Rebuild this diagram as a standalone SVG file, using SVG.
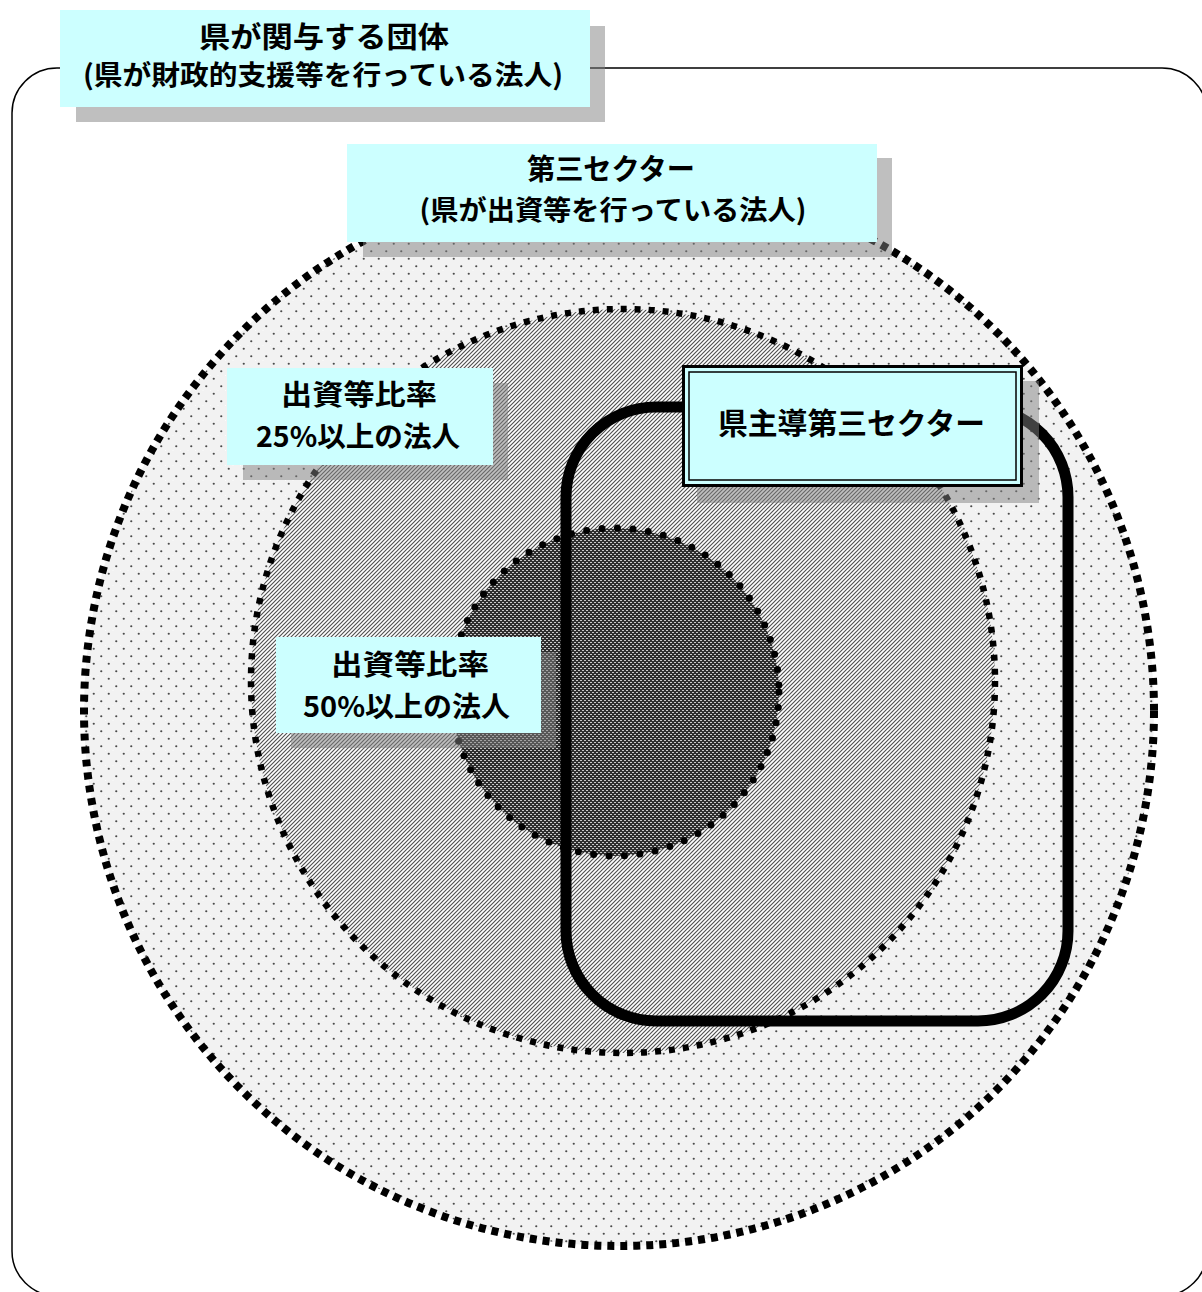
<svg xmlns="http://www.w3.org/2000/svg" width="1202" height="1292" viewBox="0 0 1202 1292">
<defs>
<pattern id="pDots" width="15" height="15" patternUnits="userSpaceOnUse">
<rect width="15" height="15" fill="#f2f2f2"/>
<rect x="0" y="0" width="1" height="1" fill="#fbfbfb"/>
<rect x="7.5" y="0" width="1" height="1" fill="#fbfbfb"/>
<circle cx="3.75" cy="3.75" r="1.1" fill="#4a4a4a"/>
<circle cx="11.25" cy="11.25" r="1.1" fill="#4a4a4a"/>
</pattern>
<pattern id="pStripe" width="4" height="4" patternUnits="userSpaceOnUse">
<rect width="4" height="4" fill="#ffffff"/>
<path d="M0,4 L4,0 M-1,1 L1,-1 M3,5 L5,3" stroke="#505050" stroke-width="1.15"/>
</pattern>
<pattern id="pCheck" width="4" height="4" patternUnits="userSpaceOnUse">
<rect width="4" height="4" fill="#2e2e2e"/>
<rect x="0" y="0" width="2" height="1" fill="#c8c8c8"/>
<rect x="2" y="2" width="2" height="1" fill="#c8c8c8"/>
</pattern>
<style>
.lbl{font-family:"Noto Sans CJK JP","Noto Sans CJK SC",sans-serif;font-weight:bold;fill:#000;text-anchor:middle;dominant-baseline:central}
.box{fill:#ccffff}
.shadow{fill:#808080;fill-opacity:0.5}
</style>
</defs>

<g id="frame">
<rect x="12" y="68" width="1195" height="1228" rx="45" ry="45" fill="none" stroke="#000" stroke-width="1.5"/>
</g>

<g id="circle-third-sector">
<circle cx="619" cy="711" r="535" fill="url(#pDots)" stroke="#000" stroke-width="8" stroke-dasharray="7 6"/>
</g>
<g id="circle-25">
<circle cx="623" cy="681" r="372" fill="url(#pStripe)" stroke="#000" stroke-width="6.5" stroke-dasharray="6 8"/>
</g>
<g id="circle-50">
<circle cx="615" cy="692" r="164" fill="url(#pCheck)" stroke="#000" stroke-width="7" stroke-linecap="round" stroke-dasharray="0 15.5"/>
</g>
<g id="ken-shudo-area">
<rect x="566" y="407" width="502" height="614" rx="90" ry="90" fill="none" stroke="#000" stroke-width="11"/>
</g>

<g id="label-kanyo">
<rect class="shadow" x="76" y="26" width="529" height="96"/>
<rect class="box" x="60" y="10" width="530" height="97"/>
<text class="lbl" x="324" y="34.5" font-size="29" textLength="250" lengthAdjust="spacingAndGlyphs">県が関与する団体</text>
<text class="lbl" x="323" y="73" font-size="27.5" textLength="480" lengthAdjust="spacingAndGlyphs">(県が財政的支援等を行っている法人)</text>
</g>

<g id="label-third-sector">
<rect class="shadow" x="363" y="158" width="529" height="99"/>
<rect class="box" x="347" y="144" width="530" height="98"/>
<text class="lbl" x="611" y="167" font-size="29" textLength="168" lengthAdjust="spacingAndGlyphs">第三セクター</text>
<text class="lbl" x="613" y="208" font-size="27.5" textLength="387" lengthAdjust="spacingAndGlyphs">(県が出資等を行っている法人)</text>
</g>

<g id="label-25">
<rect class="shadow" x="243" y="383" width="265" height="97"/>
<rect class="box" x="227" y="368" width="266" height="97"/>
<text class="lbl" x="359" y="392.5" font-size="28.5" textLength="156" lengthAdjust="spacingAndGlyphs">出資等比率</text>
<text class="lbl" x="358" y="434.5" font-size="28.5" textLength="204" lengthAdjust="spacingAndGlyphs">25%以上の法人</text>
</g>

<g id="label-50">
<rect class="shadow" x="291" y="652" width="265" height="96"/>
<rect class="box" x="276" y="637" width="265" height="96"/>
<text class="lbl" x="410" y="662.5" font-size="28.5" textLength="158" lengthAdjust="spacingAndGlyphs">出資等比率</text>
<text class="lbl" x="406.5" y="704.5" font-size="28.5" textLength="207" lengthAdjust="spacingAndGlyphs">50%以上の法人</text>
</g>

<g id="label-ken-shudo">
<rect class="shadow" x="697" y="381" width="342" height="122"/>
<rect class="box" x="683.5" y="366.5" width="338" height="119" stroke="#000" stroke-width="3"/>
<rect x="689" y="372" width="327" height="108" fill="none" stroke="#000" stroke-width="1.5"/>
<text class="lbl" x="851.5" y="421" font-size="29.5" textLength="267" lengthAdjust="spacingAndGlyphs">県主導第三セクター</text>
</g>
</svg>
